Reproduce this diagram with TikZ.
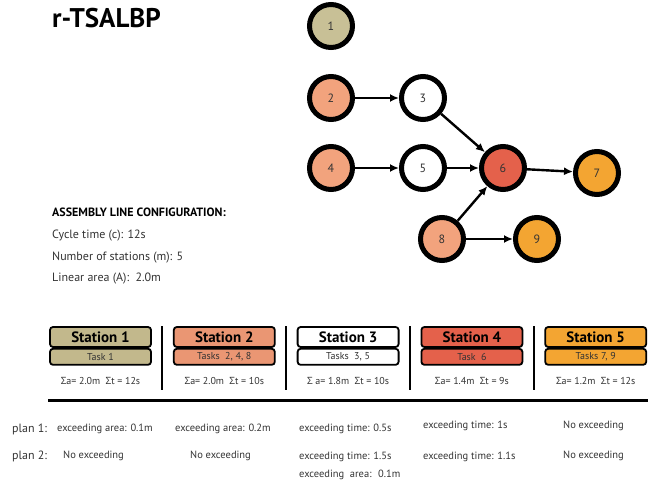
\documentclass[tikz,border=0pt]{standalone}
\usepackage{fontspec}
\setmainfont{PT Sans}
\newfontfamily\sigfont{Open Sans}
\usepackage{tikz}
\usetikzlibrary{positioning, arrows.meta, calc}

\definecolor{tannode}{HTML}{C8C096}
\definecolor{tanbox}{HTML}{C2B88C}
\definecolor{salnode}{HTML}{F2A37D}
\definecolor{salbox}{HTML}{EA9673}
\definecolor{rednode}{HTML}{E4614B}
\definecolor{orgnode}{HTML}{F3A532}
\definecolor{txtgrey}{HTML}{333333}

\newcommand{\sumsym}{{\sigfont Σ}}

\begin{document}
\begin{tikzpicture}[
    x=1pt, y=-1pt,
    task/.style={draw=black, line width=5pt, circle, minimum size=43pt, inner sep=0pt, outer sep=2.5pt, text=txtgrey, font=\fontsize{12}{12}\selectfont},
    prec/.style={line width=2.4pt, -{Latex[length=9pt, width=8pt]}},
    sthead/.style={draw=black, line width=1.8pt, rounded corners=3pt, minimum width=101pt, minimum height=20pt, inner sep=0pt, font=\bfseries\fontsize{15}{15}\selectfont},
    sttask/.style={draw=black, line width=1.8pt, rounded corners=3pt, minimum width=101pt, minimum height=16pt, inner sep=0pt, text=txtgrey, font=\fontsize{10}{10}\selectfont},
    sumlabel/.style={inner sep=0pt, text=txtgrey, font=\fontsize{10}{10}\selectfont},
    infolabel/.style={anchor=base west, inner sep=0pt, text=txtgrey, font=\fontsize{12}{12}\selectfont},
    planhead/.style={anchor=base west, inner sep=0pt, text=txtgrey, font=\fontsize{12}{12}\selectfont},
    planlabel/.style={anchor=base west, inner sep=0pt, text=txtgrey, font=\fontsize{10.5}{10.5}\selectfont},
    sep/.style={line width=2pt},
    rule/.style={line width=3pt}
]
\useasboundingbox (0,0) rectangle (662,484);

% title and configuration
\node[anchor=base west, inner sep=0pt, font=\bfseries\fontsize{27}{27}\selectfont] (title) at (52,28) {r-TSALBP};
\node[infolabel, font=\bfseries\fontsize{12}{12}\selectfont, text=black] (conf) at (52,217) {ASSEMBLY LINE CONFIGURATION:};
\node[infolabel] (cyc) at (52,238) {Cycle time (c): 12s};
\node[infolabel] (nst) at (52,260) {Number of stations (m): 5};
\node[infolabel] (lin) at (52,281) {Linear area (A):~ 2.0m};

% precedence graph
\node[task, fill=tannode] (n1) at (331,26) {1};
\node[task, fill=salnode, on grid, below=72pt of n1] (n2) {2};
\node[task, fill=white, on grid, right=92pt of n2] (n3) {3};
\node[task, fill=salnode, on grid, below=70pt of n2] (n4) {4};
\node[task, fill=white, on grid, right=92pt of n4] (n5) {5};
\node[task, fill=rednode, on grid, right=80pt of n5] (n6) {6};
\node[task, fill=orgnode] (n7) at ([xshift=94pt, yshift=-5pt] n6) {7};
\node[task, fill=salnode, on grid, below right=71pt and 19pt of n5] (n8) {8};
\node[task, fill=orgnode, on grid, right=95pt of n8] (n9) {9};

\draw[prec] (n2) -- (n3);
\draw[prec] (n4) -- (n5);
\draw[prec] (n3) -- (n6);
\draw[prec] (n5) -- (n6);
\draw[prec] (n8) -- (n6);
\draw[prec] (n6) -- (n7);
\draw[prec] (n8) -- (n9);

% stations
\node[sthead, fill=tanbox] (s1) at (100.5,337) {Station 1};
\node[sthead, fill=salbox, right=21pt of s1] (s2) {Station 2};
\node[sthead, fill=white, right=21pt of s2] (s3) {Station 3};
\node[sthead, fill=rednode, right=21pt of s3] (s4) {Station 4};
\node[sthead, fill=orgnode, right=21pt of s4] (s5) {Station 5};

\node[sttask, fill=tanbox, below=0pt of s1] (t1) {Task 1};
\node[sttask, fill=salbox, below=0pt of s2] (t2) {Tasks~ 2, 4, 8};
\node[sttask, fill=white, below=0pt of s3] (t3) {Tasks~ 3, 5};
\node[sttask, fill=rednode, below=0pt of s4] (t4) {Task~ 6};
\node[sttask, fill=orgnode, below=0pt of s5] (t5) {Tasks 7, 9};

\node[sumlabel] (a1) at ([yshift=-15pt] t1.south) {\sumsym a= 2.0m~ \sumsym t = 12s};
\node[sumlabel] (a2) at ([yshift=-15pt] t2.south) {\sumsym a= 2.0m~ \sumsym t = 10s};
\node[sumlabel] (a3) at ([yshift=-15pt] t3.south) {\sumsym\ a= 1.8m~ \sumsym t = 10s};
\node[sumlabel] (a4) at ([yshift=-15pt] t4.south) {\sumsym a= 1.4m~ \sumsym t = 9s};
\node[sumlabel] (a5) at ([yshift=-15pt] t5.south) {\sumsym a= 1.2m~ \sumsym t = 12s};

\foreach \a/\b in {s1/s2, s2/s3, s3/s4, s4/s5}
    \draw[sep] ($(\a.north east)!0.5!(\b.north west)$) -- ++(0,64);

\draw[rule] (48,400) -- (648,400);

% plans
\node[planhead] (p1) at (12,432) {plan 1:};
\node[planhead] (p2) at (12,459) {plan 2:};

\node[planlabel] (p11) at (57,431) {exceeding area: 0.1m};
\node[planlabel] (p12) at (175,431) {exceeding area: 0.2m};
\node[planlabel] (p13) at (299,431) {exceeding time: 0.5s};
\node[planlabel] (p14) at (423,428) {exceeding time: 1s};
\node[planlabel] (p15) at (563,428) {No exceeding};

\node[planlabel] (p21) at (63,458) {No exceeding};
\node[planlabel] (p22) at (190,458) {No exceeding};
\node[planlabel] (p23) at (299,459) {exceeding time: 1.5s};
\node[planlabel] (p24) at (423,459) {exceeding time: 1.1s};
\node[planlabel] (p25) at (563,458) {No exceeding};
\node[planlabel] (p26) at (299,477) {exceeding~ area:~ 0.1m};

\end{tikzpicture}
\end{document}
